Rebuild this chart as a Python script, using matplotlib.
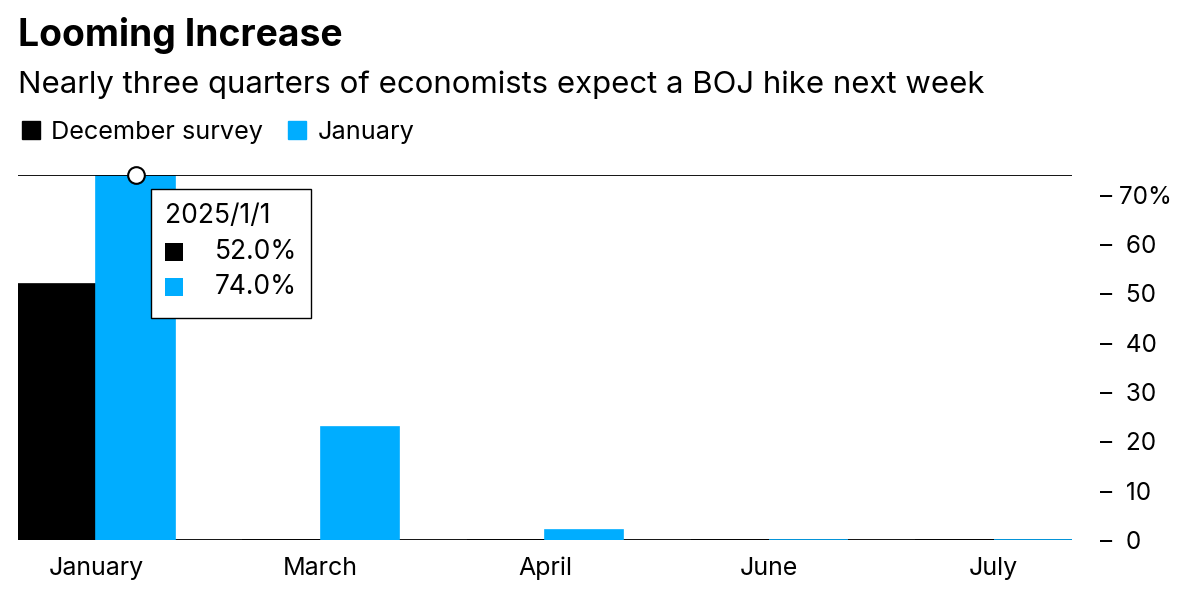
import matplotlib.pyplot as plt
import matplotlib.patches as mpatches
import numpy as np

plt.rcParams['font.family'] = ['Inter', 'DejaVu Sans']

# Data
months = ["January", "March", "April", "June", "July"]
december_survey = [52.0, 0.0, 0.0, 0.0, 0.0]
january_survey = [74.0, 23.0, 2.0, 0.0, 0.0]
y_ticks = [0, 10, 20, 30, 40, 50, 60, 70]
hover_date = "2025/1/1"

BLACK = "#000000"
BLUE = "#00ADFF"

fig = plt.figure(figsize=(11.85, 5.95), dpi=100)
ax = fig.add_axes([18 / 1185, 1 - 540 / 595, (1072 - 18) / 1185, (540 - 175) / 595])

x = np.arange(len(months))
w = 0.35
ax.bar(x - w / 2, december_survey, w, color=BLACK, edgecolor=BLACK, linewidth=1.2, zorder=3)
ax.bar(x + w / 2, january_survey, w, color=BLUE, edgecolor=BLUE, linewidth=1.2, zorder=3)

ax.set_xlim(-0.35, len(months) - 1 + 0.35)
ax.set_ylim(0, 74)
ax.axhline(0, color="black", linewidth=1.3, zorder=2)

# Hover line and marker
ax.axhline(january_survey[0], color="black", linewidth=1.3, zorder=4)
ax.plot([x[0] + w / 2], [january_survey[0]], marker="o", markersize=12,
        markerfacecolor="white", markeredgecolor="black", markeredgewidth=1.5,
        zorder=6, clip_on=False)

for s in ax.spines.values():
    s.set_visible(False)

ax.set_xticks(x)
ax.set_xticklabels(months, fontsize=18)
ax.tick_params(axis="x", length=0, pad=12)

ax.yaxis.tick_right()
ax.set_yticks(y_ticks)
ax.set_yticklabels([f"– {v}%" if v == 70 else f"–  {v}" for v in y_ticks], fontsize=17.5)
ax.tick_params(axis="y", length=0, pad=20)
for lab in ax.get_yticklabels():
    lab.set_horizontalalignment("left")

# Title, subtitle
fig.text(18 / 1185, 1 - 35 / 595, "Looming Increase", fontsize=26.8, fontweight="bold",
         va="center", ha="left")
fig.text(18 / 1185, 1 - 85 / 595,
         "Nearly three quarters of economists expect a BOJ hike next week",
         fontsize=22.4, va="center", ha="left")

# Legend
handles = [mpatches.Patch(color=BLACK, label="December survey"),
           mpatches.Patch(color=BLUE, label="January")]
fig.legend(handles=handles, loc="center left", bbox_to_anchor=(12 / 1185, 1 - 132 / 595),
           ncol=2, frameon=False, fontsize=18.2, handlelength=0.7, handleheight=0.7,
           handletextpad=0.45, columnspacing=1.0, borderaxespad=0)

# Tooltip
W, H = 1185, 595
box = mpatches.Rectangle((151 / W, 1 - 318 / H), 160 / W, 129 / H, transform=fig.transFigure,
                         facecolor="white", edgecolor="black", linewidth=1.0, zorder=10)
fig.add_artist(box)
fig.text(165 / W, 1 - 216 / H, hover_date, fontsize=19, va="center", ha="left", zorder=11)
for yy, col, val in [(252, BLACK, december_survey[0]), (287, BLUE, january_survey[0])]:
    fig.add_artist(mpatches.Rectangle((165 / W, 1 - (yy + 9) / H), 18 / W, 18 / H,
                                      transform=fig.transFigure, facecolor=col,
                                      edgecolor="none", zorder=11))
    fig.text(297 / W, 1 - yy / H, f"{val:.1f}%", fontsize=19, va="center", ha="right", zorder=11)

fig.savefig("out.png", dpi=100)
